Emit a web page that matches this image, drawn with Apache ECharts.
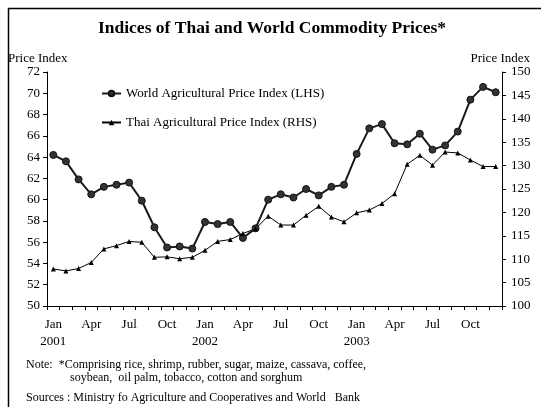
<!DOCTYPE html>
<html>
<head>
<meta charset="utf-8">
<script src="https://cdn.jsdelivr.net/npm/echarts@6/dist/echarts.min.js"></script>
<style>
  html, body { margin: 0; padding: 0; background: #ffffff; }
  #chart { width: 541px; height: 407px; }
</style>
</head>
<body>
<div id="chart"></div>
<script>
// months Jan 2001 .. Dec 2003
const months = ["Jan", "Feb", "Mar", "Apr", "May", "Jun", "Jul", "Aug", "Sep", "Oct", "Nov", "Dec"];
const years = ["2001", "2002", "2003"];

// World Agricultural Price Index (LHS)
const worldIndex = [
  64.2, 63.6, 61.9, 60.5, 61.2, 61.4, 61.6, 59.9, 57.4, 55.5, 55.6, 55.4,
  57.9, 57.7, 57.9, 56.4, 57.3, 60.0, 60.5, 60.2, 61.0, 60.4, 61.2, 61.4,
  64.3, 66.7, 67.1, 65.3, 65.2, 66.2, 64.7, 65.1, 66.4, 69.4, 70.6, 70.1
];

// Thai Agricultural Price Index (RHS)
const thaiIndex = [
  107.9, 107.5, 108.0, 109.3, 112.2, 112.9, 113.8, 113.6, 110.4, 110.5, 110.1, 110.4,
  111.9, 113.8, 114.2, 115.5, 116.5, 119.2, 117.3, 117.3, 119.4, 121.3, 119.0, 118.0,
  119.9, 120.5, 121.9, 124.0, 130.3, 132.2, 130.1, 132.9, 132.7, 131.2, 129.8, 129.8
];

const categories = [];
years.forEach(function (y) {
  months.forEach(function (m) {
    categories.push(m === "Jan" ? m + "\n" + y : m);
  });
});

const serif = "Liberation Serif";

let myChart = echarts.init(document.getElementById("chart"));

let option = {
  animation: false,
  textStyle: { fontFamily: serif, color: "#000" },
  title: {
    text: "Indices of Thai and World Commodity Prices*",
    left: 267,
    textAlign: "center",
    top: 14,
    textStyle: { fontFamily: serif, fontSize: 17.5, fontWeight: "bold", color: "#000" },
  },
  grid: {
    left: 47,
    right: 39,
    top: 72,
    bottom: 101,
  },
  legend: {
    orient: "vertical",
    left: 96,
    top: 82,
    itemWidth: 19,
    itemHeight: 7,
    itemGap: 16,
    textStyle: { fontFamily: serif, fontSize: 13, color: "#000" },
    data: [
      { name: "World Agricultural Price Index (LHS)" },
      { name: "Thai Agricultural Price Index (RHS)" },
    ],
  },
  xAxis: {
    type: "category",
    data: categories,
    boundaryGap: true,
    axisLine: { lineStyle: { color: "#000", width: 1 } },
    axisTick: { show: true, interval: 0, length: 4, inside: false, lineStyle: { color: "#000" } },
    axisLabel: {
      interval: 2,
      color: "#000",
      fontFamily: serif,
      fontSize: 13,
      lineHeight: 17,
      margin: 10,
    },
    splitLine: { show: false },
  },
  yAxis: [
    {
      type: "value",
      min: 50,
      max: 72,
      interval: 2,
      axisLine: { show: true, lineStyle: { color: "#000" } },
      axisTick: { show: true, length: 4, lineStyle: { color: "#000" } },
      axisLabel: { color: "#000", fontFamily: serif, fontSize: 13, margin: 7 },
      splitLine: { show: false },
    },
    {
      type: "value",
      min: 100,
      max: 150,
      interval: 5,
      position: "right",
      axisLine: { show: true, lineStyle: { color: "#000" } },
      axisTick: { show: true, length: 4, lineStyle: { color: "#000" } },
      axisLabel: { color: "#000", fontFamily: serif, fontSize: 13, margin: 9 },
      splitLine: { show: false },
    },
  ],
  series: [
    {
      name: "World Agricultural Price Index (LHS)",
      type: "line",
      yAxisIndex: 0,
      data: worldIndex,
      symbol: "circle",
      symbolSize: 7,
      lineStyle: { color: "#1a1a1a", width: 2 },
      itemStyle: { color: "#333333", borderColor: "#111", borderWidth: 1 },
    },
    {
      name: "Thai Agricultural Price Index (RHS)",
      type: "line",
      yAxisIndex: 1,
      data: thaiIndex,
      symbol: "triangle",
      symbolSize: 5,
      lineStyle: { color: "#000", width: 1 },
      itemStyle: { color: "#000" },
    },
  ],
  graphic: [
    {
      type: "rect",
      left: 6,
      top: 6,
      shape: { width: 560, height: 420 },
      style: { fill: "none", stroke: "#000", lineWidth: 1.5 },
      silent: true,
    },
    {
      type: "text",
      left: 8,
      top: 52,
      style: { text: "Price Index", font: "13px 'Liberation Serif'", fill: "#000" },
    },
    {
      type: "text",
      right: 11,
      top: 52,
      style: { text: "Price Index", font: "13px 'Liberation Serif'", fill: "#000" },
    },
    {
      type: "text",
      left: 26,
      top: 359,
      style: {
        text: "Note:  *Comprising rice, shrimp, rubber, sugar, maize, cassava, coffee,",
        font: "12px 'Liberation Serif'",
        fill: "#000",
      },
    },
    {
      type: "text",
      left: 70,
      top: 372,
      style: {
        text: "soybean,  oil palm, tobacco, cotton and sorghum",
        font: "12px 'Liberation Serif'",
        fill: "#000",
      },
    },
    {
      type: "text",
      left: 26,
      top: 392,
      style: {
        text: "Sources : Ministry fo Agriculture and Cooperatives and World   Bank",
        font: "12px 'Liberation Serif'",
        fill: "#000",
      },
    },
  ],
};

myChart.setOption(option);
</script>
</body>
</html>
